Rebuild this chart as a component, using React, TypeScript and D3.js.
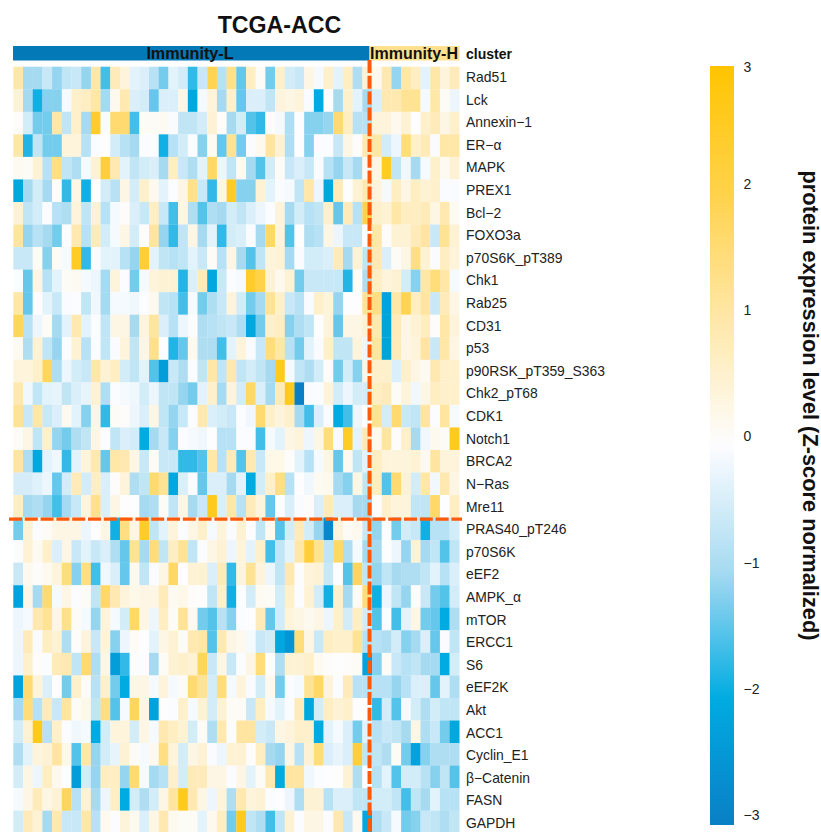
import React from "react"
import { scaleBand, scaleLinear, scalePoint, range } from "d3"

// protein rows, top to bottom. 37 Immunity-L samples then 9 Immunity-H samples
const proteins = [
  "Rad51", "Lck", "Annexin−1", "ER−α", "MAPK", "PREX1", "Bcl−2", "FOXO3a", "p70S6K_pT389", "Chk1",
  "Rab25", "CD31", "p53", "p90RSK_pT359_S363", "Chk2_pT68", "CDK1", "Notch1", "BRCA2", "N−Ras", "Mre11",
  "PRAS40_pT246", "p70S6K", "eEF2", "AMPK_α", "mTOR", "ERCC1", "S6", "eEF2K", "Akt", "ACC1",
  "Cyclin_E1", "β−Catenin", "FASN", "GAPDH",
]

const rad51 = [1.0,-1.0,-1.0,-0.6,-1.1,-0.7,-0.6,-1.1,1.0,-1.6,0.8,0.4,-0.3,-0.4,-0.8,-1.3,-0.3,-0.5,-1.7,-0.6,1.9,-0.8,1.3,-1.4,0.7,0.1,-1.3,0.6,-0.5,-0.6,0.3,-0.1,0.6,-0.3,0.7,-0.9,0.5,0.2,0.9,-1.1,1.0,0.7,-0.3,1.0,0.4,0.8]
const lck = [0.5,-1.0,-1.9,-1.2,-1.2,-0.1,0.6,0.7,1.0,-1.0,0.2,0.9,-0.4,-0.5,-1.4,-0.4,-0.4,0.3,-2.1,-0.1,0.4,-1.0,0.6,-1.4,-0.4,-0.4,-0.7,0.4,0.3,0.4,-0.05,-2.0,0,-1.0,0.6,-0.3,-1.0,-0.4,0.9,0.9,1.2,1.2,-0.1,1.0,0.1,-0.2]
const annexin1 = [0.05,-0.5,-1.3,-1.3,1.0,-0.7,0.6,-1.0,2.4,-0.05,1.6,1.6,-1.6,0.1,0.1,0.15,-0.05,-0.7,-0.7,-0.5,0.5,0.05,-1.0,-0.5,-1.5,-1.7,0.05,-0.1,-0.9,0,-1.2,-1.2,-1.1,1.6,0.7,-0.8,-0.8,0.4,0.4,0.2,0.5,0,0.6,0.8,0.3,0.6]
const erAlpha = [1.0,-1.8,-0.7,-1.3,-1.3,0.4,0.4,-0.8,-0.02,0.02,-0.5,-0.8,-1.0,-0.03,-0.03,-1.9,-0.8,-0.5,-0.05,-1.2,0.15,-1.4,1.2,-1.3,-0.05,0.2,1.1,0.5,-0.9,0,-1.2,-0.02,-0.02,-0.6,0.3,0.05,0.9,1.0,-0.5,-0.2,1.5,0.6,0.8,-0.05,1.0,1.0]
const mapk = [0.15,0.1,0.5,-0.8,1.4,-0.7,-0.9,-0.1,0.5,2.2,0.9,-0.3,-0.7,-0.5,-0.4,-1.0,0.7,-0.6,-0.9,-0.3,1.7,-0.2,-0.7,0.15,-1.0,-1.5,-0.5,0.1,-0.6,-0.4,-0.6,-0.05,-0.8,-1.1,-0.6,-1.0,0.2,0.3,2.5,-0.7,-0.15,-1.0,-0.1,0.6,0.15,0.5]
const prex1 = [-2.1,-1.0,-0.5,-1.0,0.05,-1.7,0.3,-1.9,0.02,-0.5,-0.8,0.3,-0.5,0.6,0.2,-0.3,-0.02,0.3,1.3,-0.6,-1.7,0.3,2.5,-1.2,-1.2,0.5,-0.3,-0.05,-0.1,-0.7,1.0,-0.2,-2.1,0.8,0.02,0.5,0.9,0.4,-0.1,0.7,0.3,0.7,0.5,0.6,-0.05,-0.05]
const bcl2 = [0.5,-0.7,-0.5,-0.03,-0.8,-0.9,0.4,-0.7,0.5,-0.8,-0.1,0.05,-0.4,-0.6,0.7,-0.6,-1.6,0.3,-0.9,-1.5,-0.9,-1.0,-0.5,-0.7,-0.4,-0.2,-0.02,0.4,-1.0,-0.5,-0.8,-0.7,0.6,-1.4,0.8,-0.8,2.0,0.6,0.5,1.0,0.7,0.7,0.8,0.3,0.9,0.15]
const foxo3a = [1.1,-1.1,-0.8,-1.0,-1.3,-0.02,0.9,-0.8,0.8,-0.5,-0.1,0.3,-0.5,0.05,1.1,-1.1,-1.7,-0.7,0.3,-1.0,-0.3,-1.7,-0.5,-0.4,-0.05,-1.0,1.7,0.4,-1.5,0.02,-0.9,-0.8,0.3,-0.2,-0.6,-0.6,0.02,1.0,0.05,0.5,0.5,0.8,1.1,-0.6,1.2,0.5]
const p70S6KpT389 = [-0.6,-0.6,0.1,-1.2,0.1,-0.1,2.5,-1.7,-0.05,-0.3,-0.3,-0.8,-1.1,2.3,-0.3,-0.7,-0.8,-0.7,-0.3,-0.6,0.1,-0.8,0.3,-1.0,-1.5,-0.7,0.4,0.5,-1.0,-0.05,-0.5,-0.5,-0.4,0.8,-1.0,0.5,-0.7,0.9,-0.4,0.1,0.3,1.4,0.5,-0.05,0.7,0.4]
const chk1 = [-0.03,-1.4,0.3,-0.8,-0.3,0.1,0.15,-0.1,-0.2,-1.0,0.4,-0.02,-1.3,-0.1,0.4,0.5,0.5,-1.8,-0.4,0.8,-2.1,-0.6,-0.03,-0.1,2.4,2.0,0.5,0.2,0.5,-1.3,-0.6,-0.6,-0.6,-0.6,-1.8,0.1,-0.9,0.7,0.4,0.5,-0.5,-1.2,1.0,1.5,1.0,-0.1]
const rab25 = [1.0,-1.4,0,-0.3,-0.6,-0.05,-0.03,-0.7,-0.15,-1.0,-0.1,-0.1,-0.15,-0.02,0.2,-0.7,-0.8,-1.6,-0.1,-1.3,-0.9,-0.6,0.4,-0.5,-1.3,-1.0,1.2,0.6,-0.6,-0.8,-0.05,0.6,0.4,-1.1,0,0,1.2,1.4,-2.2,1.0,1.9,0.7,1.1,-0.6,0.8,0.3]
const cd31 = [1.8,-0.8,-0.2,0.1,-1.0,-0.3,0.9,-0.3,-0.03,-0.7,0.3,0.3,-1.0,0.4,1.1,-0.4,-0.8,-0.2,0.03,-0.9,-0.8,-0.7,-0.6,-0.9,-2.1,-1.3,0.6,0.7,-1.2,-0.9,-0.7,0.02,0.4,-1.4,0.3,0.3,0.5,0.9,-2.2,0.8,0.3,0.5,0.7,0.05,1.0,0.4]
const p53 = [0.15,-0.9,0.5,-0.7,-1.1,-0.02,0.5,-0.8,-0.02,-0.7,-0.05,0.4,-0.7,0.3,1.3,0,-1.8,-1.4,0.2,-0.9,-0.9,-1.6,-0.3,0.4,-0.05,-0.6,1.5,1.0,-0.8,-1.3,-0.3,-0.05,0.6,-0.7,-0.7,0.4,-0.2,1.1,-2.2,0.8,0.3,0.4,1.1,-0.6,1.0,0.3]
const p90RSK = [0.4,0.4,0.6,1.8,-0.9,-0.2,-0.5,-0.6,1.0,0.5,0.7,-0.5,-0.7,-0.3,-1.5,-2.3,-0.6,-0.9,-0.03,-0.7,1.0,-0.7,0.9,-0.7,-0.5,-0.7,-1.0,2.6,-0.1,-0.7,-0.9,-0.5,0.05,-1.3,-0.5,-1.2,0.3,0.6,0.6,-0.4,0.6,0.3,0.15,0.9,0.6,0.6]
const chk2pT68 = [0.9,-0.15,-0.7,-0.3,-0.25,-0.7,-0.4,-0.25,0.5,-0.9,-0.03,-0.1,-0.15,-0.5,-0.2,-0.7,-0.7,-1.1,-1.3,-0.3,0.6,-1.0,0.4,-0.5,1.7,-0.4,-1.0,0.8,2.6,-3,-0.05,-0.02,0.4,-0.5,-0.2,-0.5,-0.5,0.7,0.8,0.1,0.4,-0.15,0.3,0.7,0.6,0.6]
const cdk1 = [1.2,-0.6,1.0,-0.6,-0.4,0.2,-0.3,-1.2,0.3,-1.7,0.1,0.05,-0.2,-0.4,0.3,-0.7,-1.1,-0.6,-0.03,0.9,-0.4,-0.5,-0.6,-0.03,-0.15,1.6,0.6,0.4,0.6,-1.0,-1.6,-0.4,-0.05,-2.0,-1.6,-0.2,0,1.2,-0.5,1.6,-0.6,-0.7,1.1,-0.02,1.1,-0.1]
const notch1 = [0.1,0.3,-0.7,0.6,-1.1,-1.3,-0.9,-0.7,0.3,-0.02,-0.7,-0.4,-0.5,-2.0,-1.0,-0.6,-1.2,-0.02,-0.1,-0.15,0.02,-0.8,-0.8,-0.03,-0.03,-1.6,-0.1,-0.3,0.3,0.4,-0.2,0.3,1.5,-0.1,2.5,-0.3,0.9,0.2,1.1,0.05,0.6,-1.0,-0.15,0.2,0.1,2.6]
const brca2 = [1.1,-0.9,-2.1,-0.3,-0.15,-1.7,-0.3,0.4,0.9,-1.4,1.0,0.9,0.3,-0.6,0.1,-0.6,-0.6,-1.7,-1.7,-1.5,1.0,-0.8,0.8,-1.5,0.9,-0.6,0.25,0.25,0.05,-0.3,-0.8,-0.1,0.3,-1.4,0.2,-0.7,-0.3,0.7,0.4,0.4,0.4,0.5,0.2,1.1,0.4,0.4]
const nRas = [-0.45,-0.45,-0.35,-0.2,-1.4,-0.5,0.8,-0.5,0.7,-0.4,0.05,0.4,-0.9,-0.7,1.6,1.2,-2.1,-0.4,-0.05,-1.4,-0.4,-0.4,-1.0,-0.3,-2.0,-0.5,0.6,1.4,-0.8,0,-0.15,0.15,0.2,-1.0,-1.2,0.3,-0.7,0.7,-1.5,1.6,0.5,-0.5,1.0,-0.15,0.9,0.3]
const mre11 = [0.7,-1.0,-0.9,-1.1,-1.6,-1.0,-0.6,0.4,1.3,-0.4,0.3,0.02,0.02,-1.0,-0.9,0.1,-0.7,0.3,-1.0,-0.6,2.6,-0.4,1.0,-0.8,0.8,0.4,-1.4,0.02,-0.4,-0.05,0.05,-0.4,0.8,-0.4,-0.4,-1.0,-1.0,0.05,0.6,0.4,0.4,-0.7,-0.7,1.7,0,0.7]
const pras40 = [-1.3,0.5,-0.02,0.1,0.3,0.3,0.3,-0.2,0.02,0.3,-1.9,1.4,0.3,2.4,-0.7,-0.3,0.4,-0.02,0.3,0.6,-0.1,0.4,-0.05,0.5,0,-0.7,0.2,-1.5,-0.5,0.8,-0.5,-1.1,-2.8,0.4,0.1,0.2,-0.6,-1.1,-0.02,-1.3,-0.5,-0.6,-1.9,-0.8,-0.8,-0.5]
const p70S6K = [-0.03,0.5,0.15,0.6,-0.4,0.3,-0.6,-0.3,-0.6,-0.4,-0.9,-1.4,1.2,-1.0,1.5,-0.7,0.7,1.2,-0.7,-0.03,0.3,0.5,-0.2,0.4,-0.3,0.6,-1.6,-0.7,-0.3,1.0,2.2,1.2,-0.7,1.7,-0.9,-0.1,-1.0,-1.0,0.02,-0.2,-1.1,0.5,-1.0,-0.7,-1.5,-0.7]
const eef2 = [-0.6,0.2,0.05,0.2,0.4,1.5,-1.2,1.4,-1.6,-0.15,-0.4,-1.4,0.2,-0.7,-0.05,0.3,1.7,0,0.5,0.5,-0.4,0.8,-1.7,0.4,1.2,0.4,-0.2,-0.7,0.9,0.03,0.4,0.5,-0.6,0,-1.5,1.8,-0.7,-1.1,-0.7,-1.0,-0.9,-0.9,-0.7,-0.3,-0.8,-0.4]
const ampkAlpha = [-2.2,0.3,-1.0,1.6,-0.1,0.3,-0.03,0.1,-0.7,1.7,0.9,0.4,0.25,0.3,0.3,0.8,0.15,0.25,0.05,0.02,-0.7,0.6,-1.9,-0.02,-0.5,0.15,0.1,-0.5,0.6,-0.02,0.5,-0.5,-1.9,0.6,-1.0,0.1,1.5,-1.9,-0.2,-0.7,-1.1,0.05,-0.6,-1.3,-1.5,-0.5]
const mtor = [-0.2,-0.1,0.9,1.2,0.3,1.3,0.1,-0.1,-1.1,0.4,-0.1,-0.5,1.7,0.3,-0.2,0.7,0.1,1.2,0.2,-1.3,-1.5,-0.8,-1.2,-0.02,0,0.8,-1.4,-0.5,0.4,0.3,0.2,0.3,-0.2,0.6,-0.5,0.7,-0.5,-1.5,-0.02,-1.6,-0.3,0.3,-1.3,-1.4,-2.0,-0.9]
const ercc1 = [-0.2,0.8,-0.05,0.7,0.5,-0.9,0.05,0.4,-0.6,0.4,-1.2,-0.2,0.1,0,-0.3,0.3,0.5,0.1,0.9,1.0,-1.5,0.9,0.3,0.2,-0.1,-0.6,-0.5,-2.1,-2.5,1.5,0.3,-0.6,0.7,0.6,0.6,1.2,-0.8,-0.8,-0.9,-0.5,-1.2,-1.0,-0.4,-1.4,-0.05,-0.7]
const s6 = [-0.2,0.6,0.05,-0.02,0.8,0.9,-0.7,1.6,-0.9,0.3,-2.3,-1.7,0.03,-0.03,-1.0,0.1,0.5,0.6,0.5,1.8,-0.6,0.3,-0.6,-0.03,0.3,1.5,0.02,-0.9,0.5,0.5,0.6,0.15,0.05,0.02,0.05,0.1,-2.2,-1.2,0.1,-0.6,-0.8,-0.7,-1.0,-1.0,-2.0,-0.5]
const eef2k = [-2.2,1.6,0.4,-0.4,0.02,-1.3,0.6,0.1,-0.8,0.6,-1.3,-2.0,0.3,0.3,-0.1,0.4,-0.1,0.1,1.6,1.2,-0.5,1.5,-0.1,0.4,-0.05,-0.5,0.2,-1.3,-0.02,-0.1,1.2,1.7,0.4,-0.03,0.8,-0.8,-0.8,-0.8,-0.8,-1.1,-0.8,-0.4,-0.4,-1.4,-0.3,-0.9]
const akt = [-1.0,1.5,-0.8,0.8,-0.6,1.1,0.1,0.25,-0.7,1.4,-1.5,-0.1,1.8,0.3,-2.2,0.02,-0.02,0.6,-0.1,0.5,-0.5,0.5,0.1,0.1,-0.6,0.7,-0.1,-0.3,-0.03,0.8,-2.1,-0.5,0.7,0.5,0.6,0.02,0.02,-1.7,-0.5,-1.5,-0.1,-0.5,-0.9,-0.5,-0.7,-0.7]
const acc1 = [-0.5,0.5,2.6,-0.8,0.6,-0.03,-0.15,-0.1,-2.0,-0.5,0.4,0.4,-0.5,0.3,-0.1,0.9,0.7,0.5,-0.5,0.1,-0.9,0.9,-0.02,1.1,1.1,-0.5,-0.6,0.3,0.4,0.6,0.6,-2.0,-0.3,-0.1,-0.4,-1.3,-0.3,-0.8,-0.6,-0.7,-1.0,0.3,-0.9,-0.6,-1.3,-2.1]
const cyclinE1 = [-0.9,-0.3,0.4,0.5,1.1,0.25,-1.5,1.0,-1.1,-0.5,-0.25,0.5,0.1,-0.1,0.2,1.4,0.4,-0.5,0.3,0.5,-0.05,-0.2,0.5,0.5,0.05,0.7,-1.0,-1.1,0.3,-0.8,0.5,1.5,-0.4,-0.25,-0.4,2.2,-0.7,-0.7,-0.9,0.1,-1.3,-2.2,-1.2,-0.9,-0.9,-0.9]
const betaCatenin = [-0.5,0.3,-0.2,0.7,0.2,0.02,-2.3,-0.5,-1.1,0.7,0.7,-1.1,1.6,-0.1,-1.0,-0.8,0.6,-0.5,0.8,0.8,0.3,0.3,-0.03,0.3,-0.3,0.1,0.9,-2.0,1.1,1.1,-0.15,-0.02,0,0.02,0.5,-0.9,0,-0.8,-0.3,-1.5,-0.5,-0.5,-0.8,-1.2,-0.7,-1.5]
const fasn = [-0.1,0.3,0.8,0.3,0.5,1.8,-0.8,0.5,-1.0,-0.2,0.7,-2.0,-0.5,-0.9,-0.5,0.3,1.1,2.6,0.9,0.3,-0.2,0.4,-0.9,0.9,0.4,0.5,-0.02,0,-0.2,-0.9,0.5,0.5,-0.8,-0.4,-0.4,-0.7,-0.7,-0.5,-0.5,-0.7,-1.6,-0.7,-1.0,-0.3,-0.8,-0.8]
const gapdh = [-0.5,0.8,0.5,-1.0,0.9,-0.6,-0.6,1.0,-0.8,0.2,-0.03,0.4,0.2,-0.4,0.3,0.9,0.2,0.1,0.1,-0.3,0.2,0.7,-1.3,2.6,-0.7,-0.9,-1.6,-0.7,0.5,-0.02,0.3,0.3,-0.03,0.9,-0.6,0.2,-2.1,-0.9,-0.6,-0.1,-1.3,-1.2,-0.6,-0.7,-0.9,-0.7]

const matrix = [
  rad51, lck, annexin1, erAlpha, mapk, prex1, bcl2, foxo3a, p70S6KpT389, chk1,
  rab25, cd31, p53, p90RSK, chk2pT68, cdk1, notch1, brca2, nRas, mre11,
  pras40, p70S6K, eef2, ampkAlpha, mtor, ercc1, s6, eef2k, akt, acc1,
  cyclinE1, betaCatenin, fasn, gapdh,
]

const lowSamples = 37
const highSamples = 9
const upRows = 20 // rows above the horizontal split
const legendTicks = [3, 2, 1, 0, -1, -2, -3]

const colour = scaleLinear<string>()
  .domain([-3, -2, -1, 0, 1, 2, 3])
  .range(["#0A7FC6", "#00ABE2", "#A6DAF1", "#FDFDFF", "#FFE7A8", "#FFD24A", "#FFC400"])
  .clamp(true)

const font = "'Liberation Sans', Arial, sans-serif"
const orange = "#FF5A0A"

export default function App() {
  const nCols = lowSamples + highSamples
  const rowH = 22.545

  const x = scaleBand<number>().domain(range(nCols)).range([13.3, 459.3])
  const y = scaleBand<number>()
    .domain(range(proteins.length))
    .range([66.7, 66.7 + rowH * proteins.length])
  // label column runs a touch wider than the cells do
  const labelY = scalePoint<string>().domain(proteins).range([82, 828])

  // the legend is squeezed at the top end, so 3 sits closer to 2
  const legendY = scaleLinear().domain([-3, 2, 3]).range([815, 184, 67])
  const barTop = 66
  const barBottom = 825
  const gradientStops = range(-3, 3.01, 0.25)
  const gradY = scaleLinear().domain([-3, 3]).range([100, 0])

  const splitX = x(lowSamples)! - 2.5
  const splitY = y(upRows)! + 1.5

  return (
    <svg
      width={821}
      height={832}
      style={{ position: "absolute", left: 0, top: 0, display: "block", fontFamily: font }}
    >
      <defs>
        <linearGradient id="zscale" x1="0" x2="0" y1="1" y2="0">
          {gradientStops.map((v) => (
            <stop key={v} offset={100 - gradY(v) + "%"} stopColor={colour(v)} />
          ))}
        </linearGradient>
      </defs>

      <text x={279.5} y={33} textAnchor="middle" fontSize={23.2} fontWeight="bold" fill="#111">
        TCGA-ACC
      </text>

      {/* cluster annotation */}
      <rect x={13} y={46} width={splitX - 13} height={14.5} fill="#0379B8" />
      <rect x={splitX} y={46} width={459.5 - splitX} height={14.5} fill="#FFE08F" />
      <text x={190} y={59} textAnchor="middle" fontSize={16.2} fontWeight="bold" fill="#111">
        Immunity-L
      </text>
      <text x={414} y={59} textAnchor="middle" fontSize={16} fontWeight="bold" fill="#111">
        Immunity-H
      </text>
      <text x={466} y={59} fontSize={14} fontWeight="bold" fill="#111">
        cluster
      </text>

      {/* heatmap cells */}
      <g>
        {matrix.map((row, r) =>
          row.map((v, c) => (
            <rect
              key={r + "-" + c}
              x={x(c)}
              y={y(r)}
              width={x.bandwidth() + 0.2}
              height={y.bandwidth() + 0.2}
              fill={colour(v)}
            />
          ))
        )}
      </g>

      {proteins.map((p) => (
        <text key={p} x={466} y={labelY(p)} fontSize={13.9} fill="#222">
          {p}
        </text>
      ))}

      {/* cluster split lines */}
      <line
        x1={splitX}
        x2={splitX}
        y1={60}
        y2={832}
        stroke={orange}
        strokeWidth={4}
        strokeDasharray="13 2.8"
      />
      <line
        x1={9}
        x2={462}
        y1={splitY}
        y2={splitY}
        stroke={orange}
        strokeWidth={3.4}
        strokeDasharray="13 2.8"
      />

      {/* colour legend */}
      <rect x={710} y={barTop} width={24} height={barBottom - barTop} fill="url(#zscale)" />
      {legendTicks.map((t) => (
        <text key={t} x={743.5} y={legendY(t) + 5} fontSize={14} fill="#222">
          {t < 0 ? "−" + Math.abs(t) : t}
        </text>
      ))}
      <text
        transform="translate(802.5,405.5) rotate(90)"
        textAnchor="middle"
        fontSize={21.8}
        fontWeight="bold"
        fill="#111"
      >
        protein expression level (Z-score normalized)
      </text>
    </svg>
  )
}
